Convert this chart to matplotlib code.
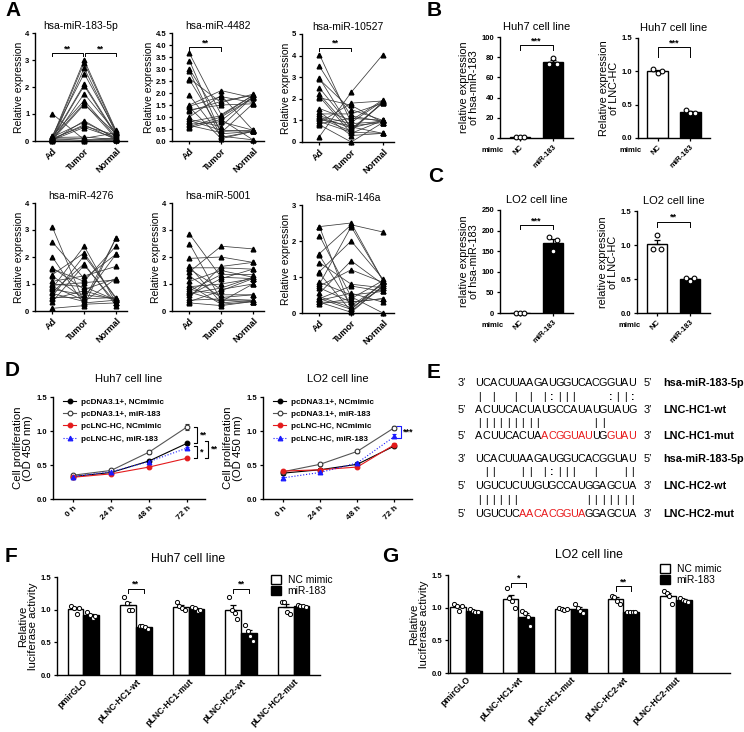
import numpy as np
import matplotlib
matplotlib.use('Agg')
import matplotlib.pyplot as plt
from matplotlib.patches import Patch
from matplotlib.lines import Line2D

plt.rcParams['font.family'] = ['Liberation Sans', 'DejaVu Sans']
plt.rcParams['axes.linewidth'] = 1.0

# ---------------- DATA ----------------
groupsA = ['Ad', 'Tumor', 'Normal']
ad183 = [1.0, 0.15, 0.1, 0.05, 0.2, 0.12, 0.08, 0.03, 0.18, 0.1, 0.05, 0.02, 0.15, 0.07, 0.1, 0.04, 0.13, 0.06, 0.09, 0.01]
tu183 = [0.05, 3.0, 2.9, 2.7, 2.5, 2.1, 2.05, 1.75, 1.5, 1.4, 1.35, 0.75, 0.7, 0.6, 0.55, 0.5, 0.15, 0.1, 0.02, 0.0]
no183 = [0.1, 0.4, 0.35, 0.3, 0.38, 0.25, 0.2, 0.32, 0.15, 0.1, 0.28, 0.08, 0.12, 0.05, 0.22, 0.1, 0.05, 0.3, 0.08, 0.02]

ad4482 = [3.65, 3.35, 3.0, 2.9, 2.6, 2.55, 1.9, 1.5, 1.45, 1.4, 1.3, 1.25, 1.0, 0.9, 0.85, 0.8, 0.7, 0.65, 0.6, 0.55]
tu4482 = [1.1, 0.3, 0.85, 0.15, 1.6, 0.4, 0.2, 2.1, 1.85, 0.1, 1.5, 1.65, 1.9, 0.6, 0.45, 1.05, 0.8, 0.35, 1.0, 0.9]
no4482 = [1.9, 0.4, 1.85, 0.4, 1.95, 0.45, 0.05, 1.8, 1.6, 0.4, 1.55, 1.9, 0.45, 1.85, 0.4, 1.9, 0.45, 1.55, 1.8, 0.05]

ad10527 = [4.05, 3.5, 2.95, 2.9, 2.5, 2.2, 2.1, 2.05, 1.55, 1.4, 1.3, 1.2, 1.15, 1.1, 1.05, 0.95, 0.9, 0.85, 0.8, 0.25]
tu10527 = [0.9, 1.2, 0.6, 1.5, 0.7, 0.55, 0.4, 1.7, 1.0, 0.3, 1.3, 0.85, 0.65, 0.5, 0.75, 0.45, 1.8, 1.1, 0.0, 2.3]
no10527 = [1.9, 0.95, 1.8, 1.0, 0.4, 1.85, 1.0, 0.9, 1.95, 0.4, 1.8, 0.95, 1.0, 1.85, 0.9, 0.4, 1.9, 1.0, 0.9, 4.05]

ad4276 = [3.1, 2.55, 2.0, 1.6, 1.55, 1.35, 1.3, 1.1, 1.0, 0.95, 0.9, 0.85, 0.8, 0.7, 0.65, 0.55, 0.5, 0.45, 0.35, 0.1]
tu4276 = [0.3, 1.2, 0.25, 0.8, 1.1, 2.15, 0.45, 1.3, 0.9, 1.05, 0.4, 2.4, 0.6, 1.75, 0.35, 2.05, 0.5, 0.75, 1.7, 0.2]
no4276 = [0.4, 2.1, 0.3, 1.2, 2.4, 0.45, 0.5, 1.65, 0.4, 1.15, 2.7, 0.3, 0.45, 0.2, 1.2, 0.5, 2.1, 0.4, 0.3, 2.7]

ad5001 = [2.85, 2.5, 1.95, 1.65, 1.6, 1.55, 1.45, 1.3, 1.1, 0.95, 0.9, 0.8, 0.75, 0.7, 0.65, 0.6, 0.5, 0.4, 0.35, 0.3]
tu5001 = [1.25, 0.4, 2.0, 0.3, 1.6, 0.8, 2.4, 0.5, 1.5, 0.25, 1.0, 0.6, 1.35, 0.35, 0.85, 1.2, 1.65, 0.45, 0.75, 0.2]
no5001 = [1.2, 0.35, 1.8, 0.4, 1.55, 1.0, 2.3, 0.6, 1.25, 0.35, 1.2, 0.6, 1.35, 1.0, 1.25, 1.55, 1.8, 0.4, 1.2, 0.35]

ad146 = [2.4, 2.4, 2.15, 1.65, 1.6, 1.4, 1.15, 1.1, 0.85, 0.8, 0.75, 0.7, 0.55, 0.45, 0.4, 0.35, 0.3, 0.25, 0.4, 0.3]
tu146 = [2.5, 0.1, 0.45, 2.45, 0.2, 0.8, 2.0, 0.05, 0.5, 2.4, 1.2, 0.3, 1.45, 0.15, 0.75, 0.55, 0.02, 0.4, 0.1, 0.3]
no146 = [0.9, 0.85, 0.0, 2.25, 0.8, 0.7, 0.95, 0.75, 0.6, 0.9, 0.85, 0.4, 0.8, 0.7, 0.6, 0.3, 0.75, 0.9, 0.85, 0.4]

mimic_cats = ['NC', 'miR-183']
b_mir_nc = [1.0, 1.0, 1.0]
b_mir_183 = [73, 79, 73]
b_lnc_nc = [1.03, 0.97, 1.0]
b_lnc_183 = [0.42, 0.37, 0.38]
c_mir_nc = [1.0, 0.8, 1.2]
c_mir_183 = [184, 150, 177]
c_lnc_nc = [0.94, 1.15, 0.94]
c_lnc_183 = [0.52, 0.47, 0.52]

times = ['0 h', '24 h', '48 h', '72 h']
d_series = ['pcDNA3.1+, NCmimic', 'pcDNA3.1+, miR-183', 'pcLNC-HC, NCmimic', 'pcLNC-HC, miR-183']
huh7_vals = [[0.33, 0.39, 0.56, 0.82], [0.35, 0.42, 0.69, 1.06], [0.32, 0.37, 0.47, 0.60], [0.33, 0.40, 0.55, 0.75]]
huh7_err = [[0.02, 0.02, 0.02, 0.02], [0.02, 0.02, 0.03, 0.04], [0.01, 0.01, 0.01, 0.01], [0.01, 0.02, 0.02, 0.02]]
lo2_vals = [[0.38, 0.43, 0.51, 0.78], [0.40, 0.51, 0.70, 1.05], [0.41, 0.43, 0.47, 0.80], [0.31, 0.39, 0.53, 0.92]]
lo2_err = [[0.02, 0.02, 0.02, 0.02], [0.02, 0.02, 0.02, 0.03], [0.01, 0.01, 0.02, 0.02], [0.02, 0.02, 0.02, 0.03]]

constructs = ['pmirGLO', 'pLNC-HC1-wt', 'pLNC-HC1-mut', 'pLNC-HC2-wt', 'pLNC-HC2-mut']
f_nc = [[1.05, 1.03, 0.93, 1.02], [1.19, 1.10, 1.00, 1.00], [1.12, 1.05, 1.02, 1.00], [1.20, 1.00, 0.95, 0.85], [1.12, 1.12, 0.96, 0.94]]
f_mir = [[0.96, 0.92, 0.88, 0.90], [0.75, 0.75, 0.73, 0.70], [1.04, 1.03, 0.98, 1.00], [0.76, 0.68, 0.60, 0.52], [1.07, 1.06, 1.05, 1.04]]
g_nc = [[1.05, 1.02, 0.95, 1.02], [1.30, 1.15, 1.10, 1.00], [0.99, 0.98, 0.97, 0.98], [1.18, 1.17, 1.10, 1.06], [1.25, 1.22, 1.18, 1.05]]
g_mir = [[0.98, 0.95, 0.93, 0.94], [0.95, 0.92, 0.85, 0.72], [1.05, 1.00, 0.95, 0.92], [0.94, 0.94, 0.94, 0.93], [1.15, 1.12, 1.10, 1.08]]

mir_seq = 'UCACUUAAGAUGGUCACGGUAU'
hc1_wt = 'ACUUCACUAUGCCAUAUGUAUG'
hc1_mut = 'ACUUCACUAACGGUAUUGGUAU'
hc2_wt = 'UGUCUCUUGUGCCAUGGAGCUA'
hc2_mut = 'UGUCUCAACACGGUAGGAGCUA'
pair1 = '| |  | | |:|||    :||:'
pair1m = '|||||||||       ||    '
pair2 = ' ||   || |:|||  |   ||'
pair2m = '||||||         |||||||'
hc1_mut_red = set(list(range(9, 16)) + list(range(18, 22)))
hc2_mut_red = set(range(6, 15))

# ---------------- FIGURE ----------------
W, H = 744, 732
fig = plt.figure(figsize=(W / 100, H / 100), dpi=100)


def add_ax(l, t, r, b):
    ax = fig.add_axes([l / W, 1 - b / H, (r - l) / W, (b - t) / H])
    ax.spines['top'].set_visible(False)
    ax.spines['right'].set_visible(False)
    ax.tick_params(direction='out', length=2.5, width=0.9, labelsize=5.5, pad=1.5)
    return ax


def ftext(x, y, s, **kw):
    return fig.text(x / W, 1 - y / H, s, **kw)


def hbracket(ax, x1, x2, y, h, text, fs=6.5):
    ax.plot([x1, x1, x2, x2], [y - h, y, y, y - h], color='k', lw=0.7, clip_on=False)
    ax.text((x1 + x2) / 2, y, text, ha='center', va='bottom', fontsize=fs, fontweight='bold')


def vbracket(ax, x, y1, y2, w, text, color='k'):
    ax.plot([x - w, x, x, x - w], [y1, y1, y2, y2], color=color, lw=0.8, clip_on=False)
    ax.text(x + 0.07, (y1 + y2) / 2, text, ha='left', va='center', fontsize=6.5, fontweight='bold')


# ---------------- PANEL A ----------------
def panelA(l, t, title, ymax, yticks, yfmt, ad, tu, no, sigs):
    ax = add_ax(l, t, l + 92, t + 108)
    xs = [0, 1, 2]
    for a, b, c in zip(ad, tu, no):
        ax.plot(xs, [a, b, c], color='#3a3a3a', lw=0.55, zorder=1)
    for x, vals in zip(xs, [ad, tu, no]):
        ax.plot([x] * len(vals), vals, ls='none', marker='^', ms=3.4, color='black', zorder=2, clip_on=False)
    ax.set_xlim(-0.55, 2.35)
    ax.set_ylim(0, ymax)
    ax.set_yticks(yticks, [yfmt.format(v) for v in yticks], fontweight='bold')
    ax.set_xticks(xs, groupsA, rotation=45, ha='right', rotation_mode='anchor', fontsize=6.5, fontweight='bold')
    ax.set_title(title, fontsize=7.5, pad=3)
    ax.set_ylabel('Relative expression', fontsize=7.5, labelpad=1)
    for (x1, x2, y, h) in sigs:
        hbracket(ax, x1, x2, y, h, '**')
    return ax


panelA(35, 33, 'hsa-miR-183-5p', 4, [0, 1, 2, 3, 4], '{:.0f}', ad183, tu183, no183,
       [(0, 0.96, 3.25, 0.12), (1.04, 2, 3.25, 0.12)])
panelA(172, 33, 'hsa-miR-4482', 4.5, list(np.arange(0, 4.51, 0.5)), '{:.1f}', ad4482, tu4482, no4482,
       [(0, 1, 3.9, 0.13)])
panelA(302, 34, 'hsa-miR-10527', 5, [0, 1, 2, 3, 4, 5], '{:.0f}', ad10527, tu10527, no10527,
       [(0, 1, 4.35, 0.15)])
panelA(35, 203, 'hsa-miR-4276', 4, [0, 1, 2, 3, 4], '{:.0f}', ad4276, tu4276, no4276, [])
panelA(172, 203, 'hsa-miR-5001', 4, [0, 1, 2, 3, 4], '{:.0f}', ad5001, tu5001, no5001, [])
panelA(302, 205, 'hsa-miR-146a', 3, [0, 1, 2, 3], '{:.0f}', ad146, tu146, no146, [])


# ---------------- PANELS B, C ----------------
def panelBC(l, t, r, b, title, ylabel, ymax, yticks, yfmt, nc, mi, sig, sig_y, sig_h, title_pad):
    ax = add_ax(l, t, r, b)
    means = [np.mean(nc), np.mean(mi)]
    sems = [np.std(nc, ddof=1) / np.sqrt(len(nc)), np.std(mi, ddof=1) / np.sqrt(len(mi))]
    ax.bar([0, 1], means, width=0.62, color=['white', 'black'], edgecolor='black', lw=1.0, zorder=1)
    ax.errorbar([0, 1], means, yerr=[[0, 0], sems], fmt='none', ecolor='black', elinewidth=0.9,
                capsize=2, capthick=0.9, zorder=2)
    offs = [-0.13, 0, 0.13]
    for x, vals in zip([0, 1], [nc, mi]):
        ax.plot([x + o for o in offs], vals, ls='none', marker='o', ms=3.4, mfc='white', mec='black',
                mew=0.8, zorder=3, clip_on=False)
    ax.set_xlim(-0.6, 1.6)
    ax.set_ylim(0, ymax)
    ax.set_yticks(yticks, [yfmt.format(v) for v in yticks], fontweight='bold')
    ax.set_xticks([0, 1], mimic_cats, rotation=45, ha='right', rotation_mode='anchor', fontsize=5.5,
                  fontweight='bold')
    ax.set_title(title, fontsize=8, pad=title_pad)
    ax.set_ylabel(ylabel, fontsize=7.8, labelpad=2, linespacing=1.0)
    hbracket(ax, 0, 1, sig_y, sig_h, sig)
    ftext(l + 4, b + 13, 'mimic', ha='right', va='center', fontsize=5.5, fontweight='bold')
    return ax


panelBC(500, 37, 573, 138, 'Huh7 cell line', 'relative expression\nof hsa-miR-183', 100,
        [0, 20, 40, 60, 80, 100], '{:.0f}', b_mir_nc, b_mir_183, '***', 92, 5, 5)
panelBC(638, 38, 710, 138, 'Huh7 cell line', 'Relative expression\nof LNC-HC', 1.5,
        [0, 0.5, 1.0, 1.5], '{:.1f}', b_lnc_nc, b_lnc_183, '***', 1.36, 0.14, 5)
panelBC(500, 210, 573, 313, 'LO2 cell line', 'relative expression\nof hsa-miR-183', 250,
        [0, 50, 100, 150, 200, 250], '{:.0f}', c_mir_nc, c_mir_183, '***', 213, 10, 5)
panelBC(637, 211, 710, 313, 'LO2 cell line', 'relative expression\nof LNC-HC', 1.5,
        [0, 0.5, 1.0, 1.5], '{:.1f}', c_lnc_nc, c_lnc_183, '**', 1.34, 0.08, 5)

# ---------------- PANEL D ----------------
d_styles = [
    dict(color='black', marker='o', mfc='black', mec='black', ls='-'),
    dict(color='#555555', marker='o', mfc='white', mec='#333333', ls='-'),
    dict(color='#e41a1c', marker='o', mfc='#e41a1c', mec='#e41a1c', ls='-'),
    dict(color='#1a1aff', marker='^', mfc='#1a1aff', mec='#1a1aff', ls=':'),
]


def panelD(l, r, title, vals, errs):
    ax = add_ax(l, 397, r, 499)
    xs = np.arange(len(times))
    handles = []
    for v, e, st, name in zip(vals, errs, d_styles, d_series):
        ax.errorbar(xs, v, yerr=e, color=st['color'], ls=st['ls'], lw=0.8, marker=st['marker'], ms=3.4,
                    mfc=st['mfc'], mec=st['mec'], mew=0.8, capsize=1.5, elinewidth=0.7, ecolor=st['mec'],
                    zorder=3, clip_on=False)
        handles.append(Line2D([0], [0], color=st['color'], ls=st['ls'], lw=0.8, marker=st['marker'], ms=3.4,
                              mfc=st['mfc'], mec=st['mec'], mew=0.8, label=name))
    ax.set_xlim(-0.53, 3.47)
    ax.set_ylim(0, 1.5)
    ax.set_yticks([0, 0.5, 1.0, 1.5], ['0.0', '0.5', '1.0', '1.5'], fontweight='bold')
    ax.set_xticks(xs, times, rotation=45, ha='right', rotation_mode='anchor', fontsize=6, fontweight='bold')
    ax.set_title(title, fontsize=8, pad=11)
    ax.set_ylabel('Cell proliferation\n(OD 450 nm)', fontsize=8.2, labelpad=3, linespacing=1.0)
    ax.legend(handles=handles, loc='upper left', bbox_to_anchor=(0.04, 1.03), frameon=False,
              prop={'size': 5.9, 'weight': 'bold'}, handlelength=1.6, labelspacing=0.55, borderpad=0,
              handletextpad=0.6)
    return ax


axD1 = panelD(53, 205, 'Huh7 cell line', huh7_vals, huh7_err)
vbracket(axD1, 3.27, huh7_vals[1][3], huh7_vals[0][3] + 0.01, 0.1, '**')
vbracket(axD1, 3.27, huh7_vals[0][3] - 0.04, huh7_vals[2][3], 0.1, '*')
vbracket(axD1, 3.56, huh7_vals[0][3] + 0.04, huh7_vals[2][3], 0.1, '**')
axD2 = panelD(263, 412, 'LO2 cell line', lo2_vals, lo2_err)
vbracket(axD2, 3.17, lo2_vals[1][3] + 0.02, lo2_vals[3][3] - 0.02, 0.1, '***', color='#1a1aff')

# ---------------- PANEL E ----------------
pitch = 7.3
x0 = 479


def seq_line(y, seq, left, right, label, red=set()):
    ftext(462, y, left, ha='center', va='center', fontsize=7.8)
    for i, ch in enumerate(seq):
        ftext(x0 + i * pitch, y, ch, ha='center', va='center', fontsize=7.8,
              color='#e8191b' if i in red else 'black')
    ftext(648, y, right, ha='center', va='center', fontsize=7.8)
    ftext(663, y, label, ha='left', va='center', fontsize=7.8, fontweight='bold')


def pair_line(y, pairs):
    for i, ch in enumerate(pairs):
        if ch != ' ':
            ftext(x0 + i * pitch, y, ch, ha='center', va='center', fontsize=7.5,
                  fontweight='bold' if ch == ':' else 'normal')


seq_line(383, mir_seq, '3\u2019', '5\u2019', 'hsa-miR-183-5p')
pair_line(397, pair1)
seq_line(410, hc1_wt, '5\u2019', '3\u2019', 'LNC-HC1-wt')
pair_line(423, pair1m)
seq_line(436, hc1_mut, '5\u2019', '3\u2019', 'LNC-HC1-mut', hc1_mut_red)
seq_line(459, mir_seq, '3\u2019', '5\u2019', 'hsa-miR-183-5p')
pair_line(472, pair2)
seq_line(486, hc2_wt, '5\u2019', '3\u2019', 'LNC-HC2-wt')
pair_line(500, pair2m)
seq_line(514, hc2_mut, '5\u2019', '3\u2019', 'LNC-HC2-mut', hc2_mut_red)


# ---------------- PANELS F, G ----------------
def panelFG(l, t, r, b, title, nc, mi, xlim, sigs, leg_xy, title_pad):
    ax = add_ax(l, t, r, b)
    xs = np.arange(len(constructs))
    bw = 0.3
    for vals, off, col in [(nc, -bw / 2, 'white'), (mi, bw / 2, 'black')]:
        means = [np.mean(v) for v in vals]
        sems = [np.std(v, ddof=1) / np.sqrt(len(v)) for v in vals]
        ax.bar(xs + off, means, width=bw, color=col, edgecolor='black', lw=1.0, zorder=1)
        ax.errorbar(xs + off, means, yerr=[[0] * len(means), sems], fmt='none', ecolor='black',
                    elinewidth=0.9, capsize=2, capthick=0.9, zorder=2)
        doffs = [-0.075, -0.025, 0.025, 0.075]
        for x, v in zip(xs + off, vals):
            ax.plot([x + d for d in doffs], v, ls='none', marker='o', ms=3.0, mfc='white', mec='black',
                    mew=0.7, zorder=3)
    ax.set_xlim(*xlim)
    ax.set_ylim(0, 1.5)
    ax.set_yticks([0, 0.5, 1.0, 1.5], ['0.0', '0.5', '1.0', '1.5'], fontweight='bold')
    ax.set_xticks(xs, constructs, rotation=45, ha='right', rotation_mode='anchor', fontsize=6.3,
                  fontweight='bold')
    ax.tick_params(axis='x', length=0)
    ax.set_title(title, fontsize=8.8, pad=title_pad)
    ax.set_ylabel('Relative\nluciferase activity', fontsize=8.2, labelpad=2, linespacing=1.0)
    for (i, y, h, s) in sigs:
        hbracket(ax, i - bw / 2, i + bw / 2, y, h, s)
    handles = [Patch(facecolor='white', edgecolor='black', lw=1.0, label='NC mimic'),
               Patch(facecolor='black', edgecolor='black', lw=1.0, label='miR-183')]
    fig.legend(handles=handles, loc='upper left', bbox_to_anchor=(leg_xy[0] / W, 1 - leg_xy[1] / H),
               frameon=False, fontsize=7.4, handlelength=1.0, handleheight=0.9, labelspacing=0.1,
               borderpad=0, handletextpad=0.6)
    return ax


panelFG(57, 577, 320, 675, 'Huh7 cell line', f_nc, f_mir, (-0.5, 4.5),
        [(1, 1.32, 0.07, '**'), (3, 1.32, 0.07, '**')], (266, 570), 11)
panelFG(448, 575, 730, 673, 'LO2 cell line', g_nc, g_mir, (-0.343, 5.03),
        [(1, 1.38, 0.07, '*'), (3, 1.33, 0.07, '**')], (655, 559), 12)

# ---------------- PANEL LETTERS ----------------
for s, x, y in [('A', 5, 11), ('B', 427, 11), ('C', 428, 177), ('D', 5, 370), ('E', 427, 372),
                ('F', 5, 557), ('G', 382, 557)]:
    ftext(x, y, s, ha='left', va='center', fontsize=15, fontweight='bold')

fig.savefig('out.png', dpi=100)
